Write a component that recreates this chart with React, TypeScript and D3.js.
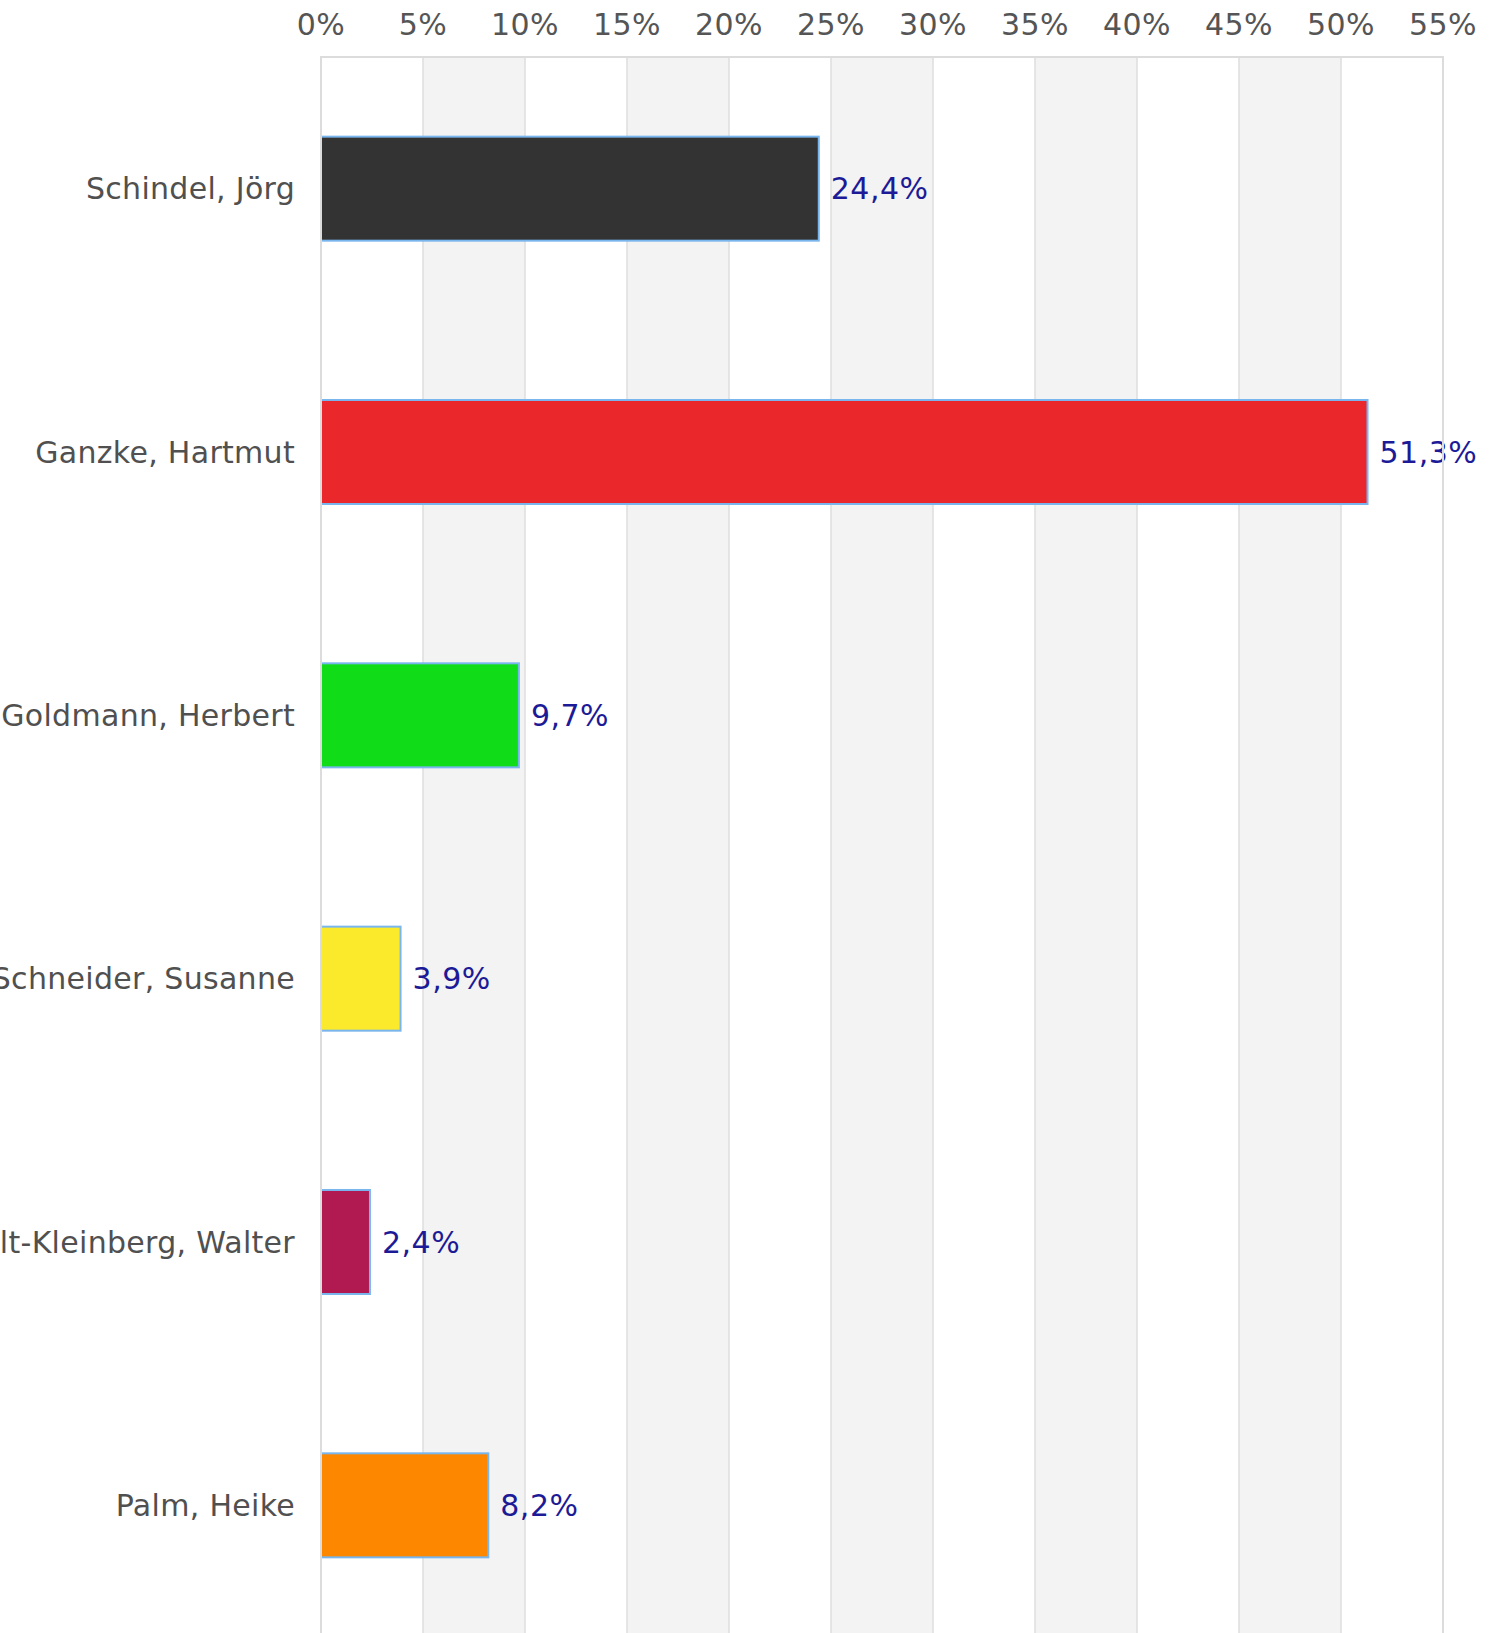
import React, { useRef, useEffect } from "react"
import * as d3 from "d3"

const names = [
  "Schindel, Jörg",
  "Ganzke, Hartmut",
  "Goldmann, Herbert",
  "Schneider, Susanne",
  "Schmalt-Kleinberg, Walter",
  "Palm, Heike",
]
const values = [24.4, 51.3, 9.7, 3.9, 2.4, 8.2]
const colors = ["#333333", "#ea282c", "#10dd17", "#fbea2c", "#b01a50", "#fd8800"]
const ticks = [0, 5, 10, 15, 20, 25, 30, 35, 40, 45, 50, 55]

const fmt = (v: number) => v.toFixed(1).replace(".", ",") + "%"

const App = () => {
  const element = useRef<SVGSVGElement>(null)

  useEffect(() => {
    const W = 1494, H = 1633
    const left = 321, right = 1443, top = 57, bottom = 1637

    const svg = d3.select(element.current)
    svg.selectAll("*").remove()

    const x = d3.scaleLinear().domain([0, 55]).range([left, right])
    const y = d3.scaleBand<string>()
      .domain(names)
      .range([top, bottom])
      .paddingInner(0.605)
      .paddingOuter(0.3025)

    const font = "'DejaVu Sans', Verdana, sans-serif"

    // alternating bands
    svg.append("g")
      .selectAll("rect")
      .data(ticks.slice(0, -1).filter((_, i) => i % 2 === 1))
      .enter()
      .append("rect")
      .attr("x", d => x(d))
      .attr("y", top)
      .attr("width", d => x(d + 5) - x(d))
      .attr("height", H - top)
      .attr("fill", "#f3f3f3")

    // grid lines
    svg.append("g")
      .selectAll("line")
      .data(ticks.slice(0, -1))
      .enter()
      .append("line")
      .attr("x1", d => x(d))
      .attr("x2", d => x(d))
      .attr("y1", top)
      .attr("y2", H)
      .attr("stroke", "#dedede")
      .attr("stroke-width", 1.5)

    // tick labels
    svg.append("g")
      .selectAll("text")
      .data(ticks)
      .enter()
      .append("text")
      .attr("x", d => x(d))
      .attr("y", 35)
      .attr("text-anchor", "middle")
      .attr("font-family", font)
      .attr("font-size", 30)
      .attr("letter-spacing", 0.4)
      .attr("fill", "#555555")
      .text(d => d + "%")

    // category labels
    svg.append("g")
      .selectAll("text")
      .data(names)
      .enter()
      .append("text")
      .attr("x", left - 26)
      .attr("y", d => y(d)! + y.bandwidth() / 2)
      .attr("dy", "0.36em")
      .attr("text-anchor", "end")
      .attr("font-family", font)
      .attr("font-size", 30)
      .attr("letter-spacing", 0.3)
      .attr("fill", "#505050")
      .text(d => d)

    // bars
    svg.append("g")
      .selectAll("rect")
      .data(values)
      .enter()
      .append("rect")
      .attr("x", x(0))
      .attr("y", (d, i) => y(names[i])!)
      .attr("width", d => x(d) - x(0))
      .attr("height", y.bandwidth())
      .attr("fill", (d, i) => colors[i])
      .attr("stroke", "#7ab6ee")
      .attr("stroke-width", 2)

    // value labels
    svg.append("g")
      .selectAll("text")
      .data(values)
      .enter()
      .append("text")
      .attr("x", d => x(d) + 12)
      .attr("y", (d, i) => y(names[i])! + y.bandwidth() / 2)
      .attr("dy", "0.36em")
      .attr("font-family", font)
      .attr("font-size", 30)
      .attr("letter-spacing", 0.5)
      .attr("fill", "#1c1a96")
      .text(d => fmt(d))

    // plot border (top and right)
    svg.append("path")
      .attr("d", `M${x(0)},${H}V${top}H${x(55)}V${H}`)
      .attr("fill", "none")
      .attr("stroke", "#dcdcdc")
      .attr("stroke-width", 2)

    svg.attr("width", W).attr("height", H)
  }, [])

  return (
    <svg
      ref={element}
      width={1494}
      height={1633}
      style={{ position: "absolute", left: 0, top: 0, background: "#ffffff" }}
    ></svg>
  )
}

export default App
